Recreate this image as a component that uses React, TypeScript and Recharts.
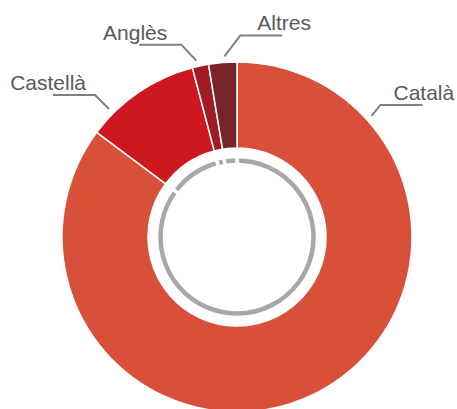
import { PieChart, Pie, Cell } from "recharts";

const languages = ["Català", "Castellà", "Anglès", "Altres"];
const shares = [85.2, 10.7, 1.5, 2.6];
const colors = ["#d8503a", "#cc181e", "#a31b22", "#78252a"];
// where each leader line leaves the ring (deg, counter-clockwise from 3 o'clock)
const labelAngles = [42, 135, 103, 94];
const labelSide = [1, -1, -1, 1];
const labelRise = [11, 14, 16, 21];
const labelRun = [9, 14, 15, 16];
const labelGap = [13, 9, 14, 17];

const data = languages.map((name, i) => ({ name, value: shares[i] }));

const RADIAN = Math.PI / 180;

function renderLabel(props: any) {
  const { cx, cy, outerRadius, index } = props;
  const a = labelAngles[index] * RADIAN;
  const r = outerRadius + 6;
  const x0 = cx + r * Math.cos(a);
  const y0 = cy - r * Math.sin(a);
  const dir = labelSide[index];
  const x1 = x0 + dir * labelRun[index];
  const y1 = y0 - labelRise[index];
  const x2 = x1 + dir * 42;
  return (
    <g>
      <polyline
        points={`${x0},${y0} ${x1},${y1} ${x2},${y1}`}
        stroke="#7f7f7f"
        strokeWidth={2}
        fill="none"
      />
      <text
        x={x1 + dir * labelGap[index]}
        y={y1 - 5}
        textAnchor={dir > 0 ? "start" : "end"}
        fill="#595959"
        fontSize={21}
        fontFamily="'Liberation Sans', Arial, sans-serif"
      >
        {languages[index]}
      </text>
    </g>
  );
}

export default function App() {
  return (
    <div style={{ position: "absolute", left: 0, top: 0, background: "#fff" }}>
      <PieChart width={457} height={409} margin={{ top: 0, right: 0, bottom: 0, left: 0 }}>
        <Pie
          data={data}
          dataKey="value"
          cx={237}
          cy={237}
          innerRadius={89}
          outerRadius={175}
          startAngle={90}
          endAngle={-270}
          stroke="#ffffff"
          strokeWidth={1.5}
          label={renderLabel}
          labelLine={false}
          isAnimationActive={false}
        >
          {data.map((d, i) => (
            <Cell key={d.name} fill={colors[i]} />
          ))}
        </Pie>
        <Pie
          data={data}
          dataKey="value"
          cx={237}
          cy={237}
          innerRadius={72.5}
          outerRadius={80.5}
          startAngle={90}
          endAngle={-270}
          fill="#a9a6a6"
          stroke="#ffffff"
          strokeWidth={3.5}
          isAnimationActive={false}
        />
      </PieChart>
    </div>
  );
}
